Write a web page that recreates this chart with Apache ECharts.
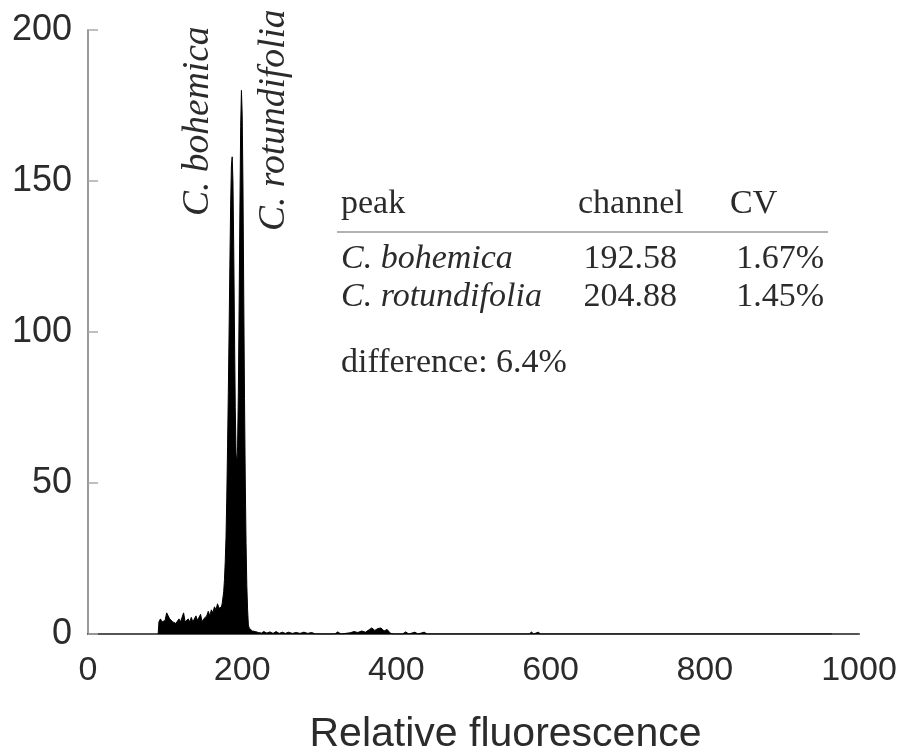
<!DOCTYPE html>
<html>
<head>
<meta charset="utf-8">
<script src="https://cdn.jsdelivr.net/npm/echarts@6/dist/echarts.min.js"></script>
<style>
  html, body { margin: 0; padding: 0; background: #fff; }
  #main { width: 907px; height: 756px; }
</style>
</head>
<body>
<div id="main"></div>
<script>
// histogram: channel (relative fluorescence) and counts
const channels = [
  91, 92, 94, 96, 98, 100, 102, 104, 106, 108, 110, 112, 114, 116, 118, 120,
  122, 124, 126, 128, 130, 132, 134, 136, 138, 140, 142, 144, 146, 148, 150,
  152, 154, 156, 158, 160, 162, 164, 166, 168, 170,
  172, 173, 174, 175, 176, 177, 178, 179, 180, 181, 182, 183, 184, 185, 186,
  187, 188, 189, 190, 191, 192, 193, 194, 195, 196, 197, 198, 199, 200, 201,
  202, 203, 204, 205, 206, 207, 208, 209, 210,
  211, 213, 215, 217, 219, 221, 223, 225, 228, 232, 236, 240, 244, 248, 252,
  256, 260, 265, 270, 275, 280, 285, 290, 295, 320, 324, 328, 340, 345, 350,
  355, 360, 365, 368, 372, 376, 380, 384, 388, 392, 396, 408, 412, 416, 424,
  428, 436, 440, 573, 575, 578, 584, 587, 612, 614, 616, 706, 708, 710, 965
];
const counts = [
  0, 4, 5, 4, 3.5, 4.5, 7, 6.5, 5, 5.5, 4, 4.5, 3.5, 4, 5, 4,
  4.5, 7, 4, 3.5, 5, 4, 5.5, 4, 3.5, 6, 4.5, 5, 6.5, 4, 5,
  5.5, 6, 7.5, 6, 8, 7, 9, 8, 10, 8.5,
  8, 9, 10, 12, 14, 18, 24, 32, 45, 62, 80, 100, 122, 142, 155,
  158, 150, 128, 100, 75, 60, 56, 62, 80, 108, 140, 168, 180, 172, 148,
  112, 78, 50, 30, 16, 8, 3, 2, 1.5,
  1.5, 1, 1.5, 0.8, 1.2, 0.5, 1, 0.3, 0.8, 0.3, 0.7, 0.2, 0.8, 0.2, 0.6,
  0.2, 0.6, 0.2, 0.5, 0.2, 0.6, 0.2, 0.5, 0, 0, 0.7, 0, 0.4, 0.8, 0.5,
  1, 0.6, 1.5, 2, 1.2, 1.8, 2, 1, 1.5, 0.3, 0, 0, 0.7, 0, 0.6,
  0, 0.6, 0, 0, 0.7, 0, 0.6, 0, 0, 0.6, 0, 0, 0.6, 0, 0
];

const xTicks = [0, 1000, 200];   // min, max, interval
const yTicks = [0, 200, 50];

const tableHead = ["peak", "channel", "CV"];
const peakNames = ["C. bohemica", "C. rotundifolia"];
const peakChannels = ["192.58", "204.88"];
const peakCVs = ["1.67%", "1.45%"];
const differenceText = "difference: 6.4%";

const sans = "'Liberation Sans', Arial, sans-serif";
const serif = "'Liberation Serif', 'Times New Roman', serif";
const ink = "#2b2b2b";

const chart = echarts.init(document.getElementById("main"), null, { renderer: "canvas" });

const graphics = [];
// rotated peak labels
graphics.push({
  type: "text", x: 198, y: 216, rotation: Math.PI / 2,
  style: { text: peakNames[0], font: "italic 37.5px " + serif, fill: ink,
           align: "left", verticalAlign: "middle" }
});
graphics.push({
  type: "text", x: 274, y: 231, rotation: Math.PI / 2,
  style: { text: peakNames[1], font: "italic 37.5px " + serif, fill: ink,
           align: "left", verticalAlign: "middle" }
});
// table
const colLeft = [341, 578, 730];
const rowY = [259, 297];
tableHead.forEach(function (t, i) {
  graphics.push({ type: "text", x: colLeft[i], y: 204,
    style: { text: t, font: "34px " + serif, fill: ink, align: "left", verticalAlign: "middle" } });
});
graphics.push({ type: "line", shape: { x1: 337, y1: 232, x2: 828, y2: 232 },
  style: { stroke: "#999", lineWidth: 1.5 } });
peakNames.forEach(function (n, i) {
  graphics.push({ type: "text", x: 341, y: rowY[i],
    style: { text: n, font: "italic 34px " + serif, fill: ink, align: "left", verticalAlign: "middle" } });
  graphics.push({ type: "text", x: 677, y: rowY[i],
    style: { text: peakChannels[i], font: "34px " + serif, fill: ink, align: "right", verticalAlign: "middle" } });
  graphics.push({ type: "text", x: 824, y: rowY[i],
    style: { text: peakCVs[i], font: "34px " + serif, fill: ink, align: "right", verticalAlign: "middle" } });
});
graphics.push({ type: "text", x: 341, y: 363,
  style: { text: differenceText, font: "34px " + serif, fill: ink, align: "left", verticalAlign: "middle" } });

const option = {
  animation: false,
  backgroundColor: "#fff",
  grid: { left: 88, right: 48, top: 30, bottom: 122, containLabel: false, outerBoundsMode: "none" },
  xAxis: {
    type: "value",
    min: xTicks[0], max: xTicks[1], interval: xTicks[2],
    name: "Relative fluorescence",
    nameLocation: "middle",
    nameGap: 80,
    nameTextStyle: { fontSize: 41, color: ink, fontFamily: sans, padding: [0, 0, 0, 64] },
    axisLine: { show: true, lineStyle: { color: "#555", width: 2 } },
    axisTick: { show: false },
    splitLine: { show: false },
    axisLabel: { fontSize: 34, color: ink, fontFamily: sans, margin: 20,
                 formatter: function (v) { return String(v); } }
  },
  yAxis: {
    type: "value",
    min: yTicks[0], max: yTicks[1], interval: yTicks[2],
    axisLine: { show: true, lineStyle: { color: "#999", width: 2 } },
    axisTick: { show: true, inside: true, length: 10, lineStyle: { color: "#aaa", width: 1.5 } },
    splitLine: { show: false },
    axisLabel: { fontSize: 36, color: ink, fontFamily: sans, margin: 16 }
  },
  series: [{
    type: "line",
    data: channels.map(function (c, i) { return [c, counts[i]]; }),
    showSymbol: false,
    symbol: "none",
    lineStyle: { color: "#000", width: 1 },
    areaStyle: { color: "#000", opacity: 1 },
    z: 3
  }],
  graphic: graphics
};
chart.setOption(option);
</script>
</body>
</html>
